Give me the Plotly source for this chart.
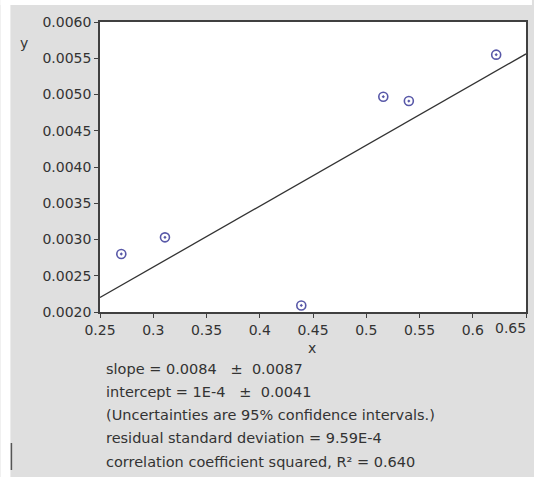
import plotly.graph_objects as go

# data
x_vals = [0.270, 0.311, 0.439, 0.516, 0.540, 0.622]
y_vals = [0.00280, 0.00303, 0.00209, 0.00497, 0.00491, 0.00555]
fit_slope = 0.0084
fit_intercept = 0.0001
x_range = [0.25, 0.65]
y_range = [0.0020, 0.0060]
x_ticks = [0.25, 0.3, 0.35, 0.4, 0.45, 0.5, 0.55, 0.6, 0.65]
y_ticks = [0.0020, 0.0025, 0.0030, 0.0035, 0.0040, 0.0045, 0.0050, 0.0055, 0.0060]
stats_lines = [
    "slope = 0.0084 \u00a0\u00a0\u00b1 \u00a00.0087",
    "intercept = 1E-4 \u00a0\u00a0\u00b1 \u00a00.0041",
    "(Uncertainties are 95% confidence intervals.)",
    "residual standard deviation = 9.59E-4",
    "correlation coefficient squared, R\u00b2 = 0.640",
]

W, H = 534, 477
ML, MR, MT, MB = 100, 6, 22, 165
PW, PH = W - ML - MR, H - MT - MB

def px_x(p):
    return (p - ML) / PW

def px_y(p):
    return (H - MB - p) / PH

FONT = "DejaVu Sans"
TXT = "#333333"
AX = "#404040"

fig = go.Figure()
fig.add_trace(go.Scatter(
    x=x_range,
    y=[fit_intercept + fit_slope * v for v in x_range],
    mode="lines", line=dict(color="#333333", width=1.3),
    showlegend=False, hoverinfo="skip"))
fig.add_trace(go.Scatter(
    x=x_vals, y=y_vals, mode="markers",
    marker=dict(symbol="circle-open-dot", size=9, color="#5858a8",
                line=dict(width=1.6, color="#5858a8")),
    showlegend=False))

# last x tick label sits right-aligned at the plot edge, as in the reference
x_ticktext = [f"{v:g}" for v in x_ticks]
last_label = x_ticktext[-1]
x_ticktext[-1] = ""

annotations = [
    dict(text="y", x=px_x(24), y=px_y(43), xref="paper", yref="paper",
         xanchor="center", yanchor="middle",
         showarrow=False, font=dict(family=FONT, size=14, color=TXT)),
    dict(text="x", x=px_x(313), y=px_y(348), xref="paper", yref="paper",
         xanchor="center", yanchor="middle",
         showarrow=False, font=dict(family=FONT, size=14, color=TXT)),
    dict(text=last_label, x=px_x(530), y=px_y(328), xref="paper", yref="paper",
         xanchor="right", yanchor="middle",
         showarrow=False, font=dict(family=FONT, size=14, color=TXT)),
]
line_y = [369, 392, 415, 438, 462]
for t, py in zip(stats_lines, line_y):
    annotations.append(dict(text=t, x=px_x(104), y=px_y(py), xref="paper", yref="paper",
                            xanchor="left", yanchor="middle", showarrow=False,
                            font=dict(family=FONT, size=14.5, color=TXT)))

shapes = [
    # white strips at left and top of the picture
    dict(type="rect", xref="paper", yref="paper", x0=px_x(0), x1=px_x(10), y0=px_y(H), y1=px_y(0),
         fillcolor="white", line=dict(width=0), layer="below"),
    dict(type="rect", xref="paper", yref="paper", x0=px_x(0), x1=px_x(W), y0=px_y(5), y1=px_y(0),
         fillcolor="white", line=dict(width=0), layer="below"),
    dict(type="line", xref="paper", yref="paper", x0=px_x(11), x1=px_x(11), y0=px_y(443), y1=px_y(470),
         line=dict(color="#555555", width=1.5)),
]

fig.update_layout(
    width=W, height=H,
    margin=dict(l=ML, r=MR, t=MT, b=MB, pad=0),
    paper_bgcolor="#dfdfdf", plot_bgcolor="white",
    annotations=annotations, shapes=shapes,
    xaxis=dict(range=x_range, tickvals=x_ticks, ticktext=x_ticktext,
               showgrid=False, zeroline=False, showline=True, mirror=True,
               linecolor=AX, linewidth=1.5, ticks="outside", ticklen=4, tickcolor=AX,
               tickfont=dict(family=FONT, size=14, color=TXT)),
    yaxis=dict(range=y_range, tickvals=y_ticks, ticktext=[f"{v:.4f}" for v in y_ticks],
               showgrid=False, zeroline=False, showline=True, mirror=True,
               linecolor=AX, linewidth=1.5, ticks="outside", ticklen=4, tickcolor=AX,
               tickfont=dict(family=FONT, size=14, color=TXT)),
)

fig.write_html("out.html")
